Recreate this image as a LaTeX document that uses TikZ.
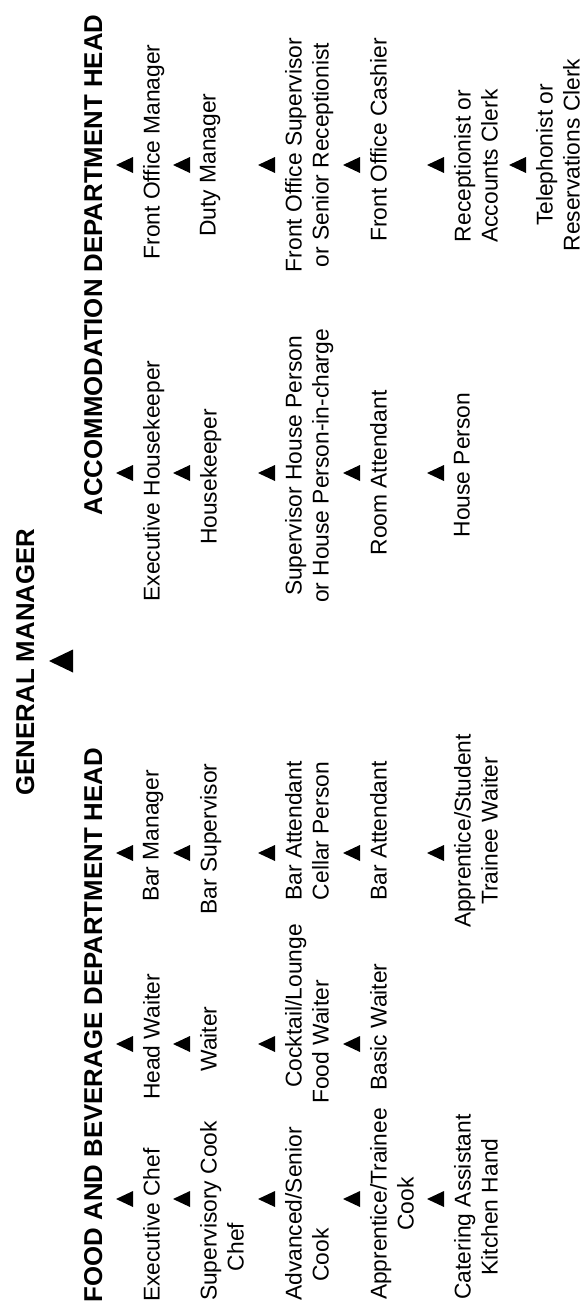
\documentclass[tikz,border=0pt]{standalone}
\usepackage{fontspec}
\setmainfont{Liberation Sans}
\usetikzlibrary{shapes.geometric}
\begin{document}
\begin{tikzpicture}[x=1pt,y=-1pt,
  lbl/.style={rotate=90, inner sep=0pt, outer sep=0pt, anchor=north, align=center,
    font=\fontsize{22.8}{27}\selectfont},
  head/.style={rotate=90, inner sep=0pt, outer sep=0pt, anchor=north,
    font=\bfseries\fontsize{25.8}{30}\selectfont},
  tri/.style={isosceles triangle, isosceles triangle stretches, shape border rotate=180,
    minimum width=16pt, minimum height=17pt, inner sep=0pt, outer sep=0pt,
    fill=black, draw=none, anchor=apex},
  bigtri/.style={tri, minimum width=23pt, minimum height=24pt}]
\useasboundingbox[fill=white] (0,0) rectangle (584,1306);

% headings
\node[head] (gm) at (16,662) {GENERAL MANAGER};
\node[bigtri] (tgm) at (49,661) {};
\node[head] (fb) at (84,1025) {FOOD AND BEVERAGE DEPARTMENT HEAD};
\node[head] (acc) at (84,265) {ACCOMMODATION DEPARTMENT HEAD};

% triangles: kitchen column
\node[tri] (tk1) at (116,1199) {};
\node[tri] (tk2) at (173,1199) {};
\node[tri] (tk3) at (258,1199) {};
\node[tri] (tk4) at (343,1199) {};
\node[tri] (tk5) at (427,1199) {};
% waiter column
\node[tri] (tw1) at (116,1044) {};
\node[tri] (tw2) at (173,1044) {};
\node[tri] (tw3) at (258,1044) {};
\node[tri] (tw4) at (343,1044) {};
% bar column
\node[tri] (tb1) at (116,853) {};
\node[tri] (tb2) at (173,853) {};
\node[tri] (tb3) at (258,853) {};
\node[tri] (tb4) at (343,853) {};
\node[tri] (tb5) at (427,853) {};
% housekeeping column
\node[tri] (th1) at (116,473) {};
\node[tri] (th2) at (173,473) {};
\node[tri] (th3) at (258,473) {};
\node[tri] (th4) at (343,473) {};
\node[tri] (th5) at (427,473) {};
% front office column
\node[tri] (tf1) at (116,165) {};
\node[tri] (tf2) at (173,165) {};
\node[tri] (tf3) at (258,165) {};
\node[tri] (tf4) at (343,165) {};
\node[tri] (tf5) at (427,165) {};
\node[tri] (tf6) at (509,165) {};

% row 1
\node[lbl] (k1) at (143,1225) {Executive Chef};
\node[lbl] (w1) at (143,1037) {Head Waiter};
\node[lbl] (b1) at (143,836) {Bar Manager};
\node[lbl] (h1) at (143,481) {Executive Housekeeper};
\node[lbl] (f1) at (143,152) {Front Office Manager};
% row 2
\node[lbl] (k2) at (200,1211) {Supervisory Cook\\Chef\rule{72pt}{0pt}};
\node[lbl] (w2) at (200,1039) {Waiter};
\node[lbl] (b2) at (200,839) {Bar Supervisor};
\node[lbl] (h2) at (200,477) {Housekeeper};
\node[lbl] (f2) at (200,165) {Duty Manager};
% row 3
\node[lbl] (k3) at (285,1214) {Advanced/Senior\\Cook\rule{82pt}{0pt}};
\node[lbl] (w3) at (285,1006) {Cocktail/Lounge\\Food Waiter\rule{72pt}{0pt}};
\node[lbl] (b3) at (285,831) {Bar Attendant\\Cellar Person};
\node[lbl] (h3) at (285,466) {Supervisor House Person\\or House Person-in-charge};
\node[lbl] (f3) at (285,155) {Front Office Supervisor\\or Senior Receptionist};
% row 4
\node[lbl] (k4) at (370,1204) {Apprentice/Trainee\\Cook};
\node[lbl] (w4) at (370,1027) {Basic Waiter};
\node[lbl] (b4) at (370,831) {Bar Attendant};
\node[lbl] (h4) at (370,473) {Room Attendant};
\node[lbl] (f4) at (370,140) {Front Office Cashier};
% row 5
\node[lbl] (k5) at (454,1207) {Catering Assistant\\Kitchen Hand};
\node[lbl] (b5) at (454,831) {Apprentice/Student\\Trainee Waiter};
\node[lbl] (h5) at (454,465) {House Person};
\node[lbl] (f5) at (454,166) {Receptionist or\\Accounts Clerk};
% row 6
\node[lbl] (f6) at (536,155) {Telephonist or\\Reservations Clerk};
\end{tikzpicture}
\end{document}
